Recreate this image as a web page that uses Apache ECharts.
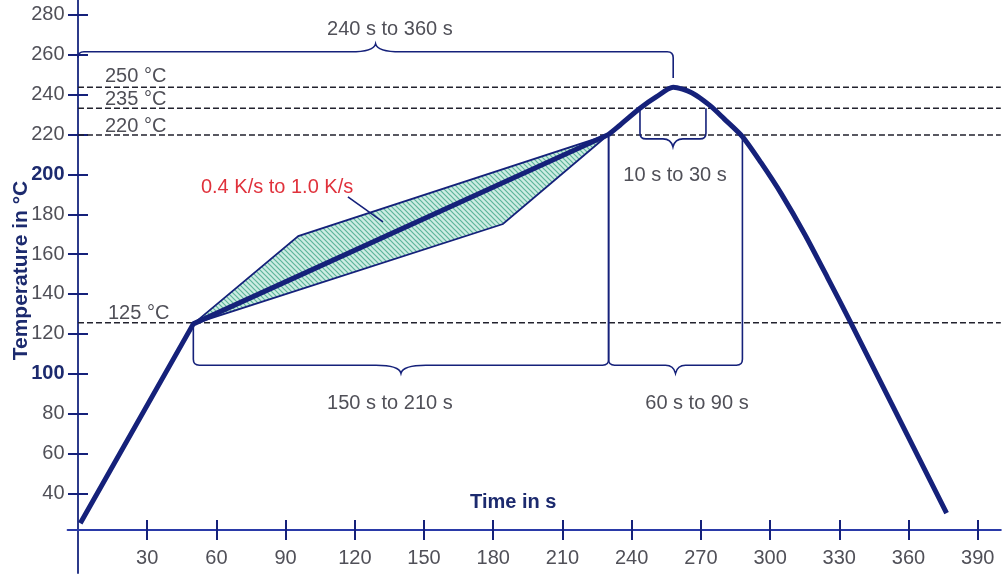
<!DOCTYPE html>
<html>
<head>
<meta charset="utf-8">
<script src="https://cdn.jsdelivr.net/npm/echarts@6/dist/echarts.min.js"></script>
<style>
  html, body { margin: 0; padding: 0; background: #fff; }
  #chart { width: 1005px; height: 575px; }
</style>
</head>
<body>
<div id="chart"></div>
<script>
// reflow profile (time in s, temperature in degC)
const rampTime = [1, 50, 230];
const rampTemp = [25, 125, 220];
const peakTime = [230, 235, 243.6, 250.8, 258, 266, 274, 280, 288, 296, 305, 315, 325, 335, 376.5];
const peakTemp = [220, 224.8, 233.2, 239, 243.7, 241, 234.5, 228, 219, 206, 190, 170, 148, 125.5, 30];

// tolerance band of the ramp
const bandTime = [50, 95.5, 230, 184.2];
const bandTemp = [125, 169, 220, 175.1];

// dashed reference levels
const levelTemp = [243.7, 233.2, 219.8, 125.5];
const levelNames = ['250 °C', '235 °C', '220 °C', '125 °C'];
const levelNameTime = [11.7, 11.7, 11.7, 13];
const levelNameTemp = [248.9, 237.4, 223.8, 130];

// braces: span, height of the bar, leg ends
const braceFrom = [0, 50, 230, 243.6];
const braceTo = [258, 230, 288, 272.2];
const braceAt = [261.5, 104.2, 104.2, 217.8];
const braceLegLeft = [258.5, 125, 220, 233.2];
const braceLegRight = [248.4, 220, 220, 233.2];
const braceNames = ['240 s to 360 s', '150 s to 210 s', '60 s to 90 s', '10 s to 30 s'];
const braceNameTime = [135.2, 135.2, 268.3, 258.8];
const braceNameTemp = [272.5, 85.3, 85.3, 199.7];

// slope note and its pointer
const rateName = '0.4 K/s to 1.0 K/s';
const rateNameTime = 86.3;
const rateNameTemp = 193.2;
const pointerTime = [117, 132.2];
const pointerTemp = [188.7, 176.2];

// axis ticks
const xTicks = [30, 60, 90, 120, 150, 180, 210, 240, 270, 300, 330, 360, 390];
const yTicks = [40, 60, 80, 100, 120, 140, 160, 180, 200, 220, 240, 260, 280];
const boldYTicks = [100, 200];

const NAVY = '#15217a';
const FONT = 'Arial, "Liberation Sans", sans-serif';

// hatch pattern for the band
const hatch = document.createElement('canvas');
hatch.width = 5; hatch.height = 5;
const hc = hatch.getContext('2d');
hc.fillStyle = '#cdece3';
hc.fillRect(0, 0, 5, 5);
hc.strokeStyle = '#5cb49a';
hc.lineWidth = 1.2;
hc.beginPath();
hc.moveTo(0, 0); hc.lineTo(5, 5);
hc.moveTo(-1, 4); hc.lineTo(1, 6);
hc.moveTo(4, -1); hc.lineTo(6, 1);
hc.stroke();

const texts = [];
levelNames.forEach((n, i) => texts.push({ value: [levelNameTime[i], levelNameTemp[i]], text: n, align: 'left', color: '#505058' }));
braceNames.forEach((n, i) => texts.push({ value: [braceNameTime[i], braceNameTemp[i]], text: n, align: 'center', color: '#505058' }));
texts.push({ value: [rateNameTime, rateNameTemp], text: rateName, align: 'center', color: '#e0323c' });

const chart = echarts.init(document.getElementById('chart'));

const xCommon = {
  type: 'value', min: -4.5, max: 400, position: 'bottom', offset: -43,
  splitLine: { show: false }
};
const yCommon = {
  type: 'value', min: 0, max: 287.5, position: 'left',
  splitLine: { show: false }
};

const option = {
  animation: false,
  grid: { left: 67.6, right: 4.2, top: 0, bottom: 2, outerBoundsMode: 'none' },
  xAxis: [
    Object.assign({}, xCommon, {
      axisLine: { onZero: false, lineStyle: { color: '#2a3aa8', width: 2 } },
      axisTick: { inside: false, length: 10, customValues: xTicks, lineStyle: { color: NAVY, width: 2 } },
      axisLabel: { customValues: xTicks, margin: 18, fontSize: 20, fontFamily: FONT, color: '#505058' },
      name: 'Time in s', nameLocation: 'middle', nameGap: -38, nameMoveOverlap: false,
      nameTextStyle: { fontSize: 20, fontWeight: 'bold', fontFamily: FONT, color: '#1c2a6e', padding: [0, 42, 0, 0] }
    }),
    Object.assign({}, xCommon, {
      axisLine: { show: false, onZero: false },
      axisTick: { inside: true, length: 10, customValues: xTicks, lineStyle: { color: NAVY, width: 2 } },
      axisLabel: { show: false }
    })
  ],
  yAxis: [
    Object.assign({}, yCommon, {
      axisLine: { onZero: true, lineStyle: { color: '#2c3a8a', width: 2 } },
      axisTick: { inside: false, length: 10, customValues: yTicks, lineStyle: { color: NAVY, width: 2 } },
      axisLabel: {
        customValues: yTicks, margin: 3, fontSize: 20, fontFamily: FONT, color: '#505058',
        formatter: v => boldYTicks.includes(v) ? '{b|' + v + '}' : String(v),
        rich: { b: { fontSize: 20, fontWeight: 'bold', fontFamily: FONT, color: '#1c2a6e' } }
      },
      name: 'Temperature in °C', nameLocation: 'middle', nameGap: 36, nameMoveOverlap: false,
      nameTextStyle: { fontSize: 21, fontWeight: 'bold', fontFamily: FONT, color: '#1c2a6e', padding: [0, 0, 0, 32] }
    }),
    Object.assign({}, yCommon, {
      axisLine: { show: false, onZero: true },
      axisTick: { inside: true, length: 10, customValues: yTicks, lineStyle: { color: NAVY, width: 2 } },
      axisLabel: { show: false }
    })
  ],
  series: [
    {
      name: 'band', type: 'custom', xAxisIndex: 0, yAxisIndex: 0,
      data: [[bandTime[0], bandTemp[0]]],
      renderItem: (params, api) => ({
        type: 'polygon',
        shape: { points: bandTime.map((t, i) => api.coord([t, bandTemp[i]])) },
        style: { fill: { image: hatch, repeat: 'repeat' }, stroke: NAVY, lineWidth: 1.8 }
      })
    },
    {
      name: 'levels', type: 'custom', xAxisIndex: 0, yAxisIndex: 0,
      data: levelTemp.map(t => [0, t]),
      renderItem: (params, api) => {
        const a = api.coord([0, api.value(1)]);
        const b = api.coord([400, api.value(1)]);
        return {
          type: 'line',
          shape: { x1: a[0], y1: a[1], x2: b[0], y2: b[1] },
          style: { stroke: '#22222e', lineWidth: 1.5, lineDash: [6, 3] }
        };
      }
    },
    {
      name: 'braces', type: 'custom', xAxisIndex: 0, yAxisIndex: 0,
      encode: { x: [0, 1], y: [2, 3, 4] },
      data: braceFrom.map((f, i) => [f, braceTo[i], braceAt[i], braceLegLeft[i], braceLegRight[i]]),
      renderItem: (params, api) => {
        const p1 = api.coord([api.value(0), api.value(2)]);
        const p2 = api.coord([api.value(1), api.value(2)]);
        const yl = api.coord([api.value(0), api.value(3)])[1];
        const yr = api.coord([api.value(1), api.value(4)])[1];
        const x1 = p1[0], x2 = p2[0], y = p1[1];
        const dir = yl < y ? 1 : -1;
        const r = 6, cd = 8;
        const cw = Math.max(10, Math.min(25, (x2 - x1) * 0.06));
        const xm = (x1 + x2) / 2;
        const d = [
          'M', x1, yl, 'L', x1, y - dir * r, 'Q', x1, y, x1 + r, y,
          'L', xm - cw, y, 'Q', xm - 2, y, xm, y + dir * cd,
          'Q', xm + 2, y, xm + cw, y,
          'L', x2 - r, y, 'Q', x2, y, x2, y - dir * r, 'L', x2, yr
        ].join(' ');
        return { type: 'path', shape: { pathData: d }, style: { fill: null, stroke: NAVY, lineWidth: 1.6 } };
      }
    },
    {
      name: 'ramp', type: 'line', xAxisIndex: 0, yAxisIndex: 0,
      data: rampTime.map((t, i) => [t, rampTemp[i]]),
      symbol: 'none', lineStyle: { color: NAVY, width: 5 }, z: 5
    },
    {
      name: 'peak', type: 'line', xAxisIndex: 0, yAxisIndex: 0,
      data: peakTime.map((t, i) => [t, peakTemp[i]]),
      smooth: 0.25, symbol: 'none', lineStyle: { color: NAVY, width: 5 }, z: 5
    },
    {
      name: 'pointer', type: 'line', xAxisIndex: 0, yAxisIndex: 0,
      data: pointerTime.map((t, i) => [t, pointerTemp[i]]),
      symbol: 'none', lineStyle: { color: NAVY, width: 1.6 }, z: 5
    },
    {
      name: 'texts', type: 'custom', xAxisIndex: 0, yAxisIndex: 0,
      data: texts.map(t => t.value),
      z: 6,
      renderItem: (params, api) => {
        const t = texts[params.dataIndex];
        const p = api.coord([api.value(0), api.value(1)]);
        return {
          type: 'text', x: p[0], y: p[1],
          style: { text: t.text, fill: t.color, font: '20px ' + FONT, align: t.align, verticalAlign: 'middle' }
        };
      }
    }
  ]
};

chart.setOption(option);
</script>
</body>
</html>
